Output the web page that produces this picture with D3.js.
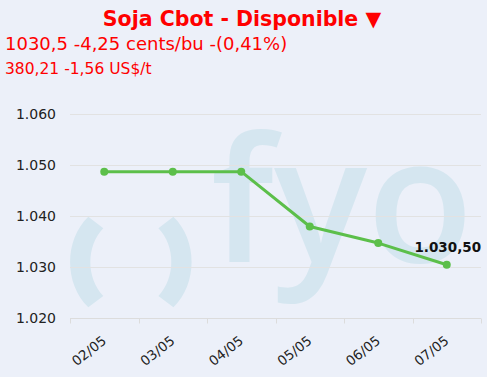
<!DOCTYPE html>
<html><head><meta charset="utf-8">
<script src="https://cdn.jsdelivr.net/npm/d3@7"></script>
<style>
html,body{margin:0;padding:0;background:#ecf0f9;}
svg{display:block;}
</style></head>
<body>
<script>
const categories = ["02/05","03/05","04/05","05/05","06/05","07/05"];
const values = [1048.75, 1048.75, 1048.75, 1038.0, 1034.75, 1030.5];
const yTicks = [1020, 1030, 1040, 1050, 1060];
const titleText = "Soja Cbot - Disponible \u25BC";
const line2 = "1030,5 -4,25 cents/bu -(0,41%)";
const line3 = "380,21 -1,56 US$/t";

const W = 487, H = 377;
const M = {left:70, right:6, top:114.3, bottom:377-318.3};
const loc = d3.formatLocale({decimal:",", thousands:".", grouping:[3], currency:["",""]});
const fmtTick = loc.format(",.0f");
const fmtLabel = loc.format(",.2f");
const FONT = "DejaVu Sans, Verdana, sans-serif";

const svg = d3.select("body").append("svg").attr("width",W).attr("height",H);
svg.append("rect").attr("width",W).attr("height",H).attr("fill","#ecf0f9");

const x = d3.scalePoint().domain(categories).range([M.left, W-M.right]).padding(0.5);
const xb = d3.scaleBand().domain(categories).range([M.left, W-M.right]);
const y = d3.scaleLinear().domain([1020,1060]).range([H-M.bottom, M.top]);

svg.append("clipPath").attr("id","plot").append("rect")
  .attr("x",M.left).attr("y",M.top-20).attr("width",W-M.right-M.left).attr("height",H-M.bottom-M.top+20);

// watermark
const wm = svg.append("g").attr("clip-path","url(#plot)").attr("fill","#d5e6f0");
wm.append("path").attr("d","M88.3,216.7 C64,240 64,284 88.3,307.3 L103.3,296 C86,278 86,246 103.3,228.3 Z");
wm.append("path").attr("d","M173.4,216.7 C197.7,240 197.7,284 173.4,307.3 L158.4,296 C175.7,278 175.7,246 158.4,228.3 Z");
wm.append("text").attr("x",211).attr("y",262).attr("font-family","Open Sans")
  .attr("font-weight",600).attr("font-size",174).text("fyo");

// grid
svg.append("g").selectAll("line").data(yTicks).join("line")
  .attr("x1",M.left).attr("x2",W-M.right)
  .attr("y1",d=>Math.round(y(d))+0.5).attr("y2",d=>Math.round(y(d))+0.5)
  .attr("stroke","#e2e2e2").attr("stroke-width",1);

// y axis labels
const yAxis = svg.append("g").attr("transform",`translate(${M.left},0)`)
  .call(d3.axisLeft(y).tickValues(yTicks).tickFormat(fmtTick).tickSize(0).tickPadding(14));
yAxis.select(".domain").remove();
yAxis.selectAll("text").attr("font-family",FONT).attr("font-size",14).attr("fill","#222");

// x axis
const xg = svg.append("g").attr("transform",`translate(0,${Math.round(H-M.bottom)+0.5})`);
xg.append("line").attr("x1",M.left).attr("x2",W-M.right).attr("stroke","#dcdcdc");
const bounds = categories.map(c=>xb(c)).concat([W-M.right]);
xg.selectAll("line.tk").data(bounds).join("line").attr("class","tk")
  .attr("x1",d=>Math.round(d)+0.5).attr("x2",d=>Math.round(d)+0.5).attr("y1",0).attr("y2",5).attr("stroke","#dcdcdc");
xg.selectAll("text").data(categories).join("text")
  .attr("transform",d=>`translate(${x(d)+3},${24}) rotate(-38)`)
  .attr("text-anchor","end").attr("font-family",FONT)
  .attr("font-size",13.5).attr("fill","#222").text(d=>d);

// line
const pts = categories.map((c,i)=>[x(c), y(values[i])]);
svg.append("path").attr("d",d3.line()(pts)).attr("fill","none")
  .attr("stroke","#5cbf4a").attr("stroke-width",3).attr("stroke-linejoin","round");
svg.append("g").selectAll("circle").data(pts).join("circle")
  .attr("cx",d=>d[0]).attr("cy",d=>d[1]).attr("r",4).attr("fill","#5cbf4a");

// last label
const li = values.length-1;
svg.append("text").attr("x",x(categories[li])+1).attr("y",y(values[li])-13)
  .attr("text-anchor","middle").attr("font-family",FONT)
  .attr("font-weight","bold").attr("font-size",13.5).attr("fill","#111")
  .text(fmtLabel(values[li]));

// titles
svg.append("text").attr("x",242).attr("y",26).attr("text-anchor","middle")
  .attr("font-family",FONT).attr("font-weight","bold")
  .attr("font-size",20.5).attr("fill","#ff0000").text(titleText);
svg.append("text").attr("x",5).attr("y",50)
  .attr("font-family",FONT)
  .attr("font-size",18).attr("fill","#ff0000").text(line2);
svg.append("text").attr("x",5).attr("y",74)
  .attr("font-family",FONT)
  .attr("font-size",15.5).attr("fill","#ff0000").text(line3);
</script>
</body></html>
